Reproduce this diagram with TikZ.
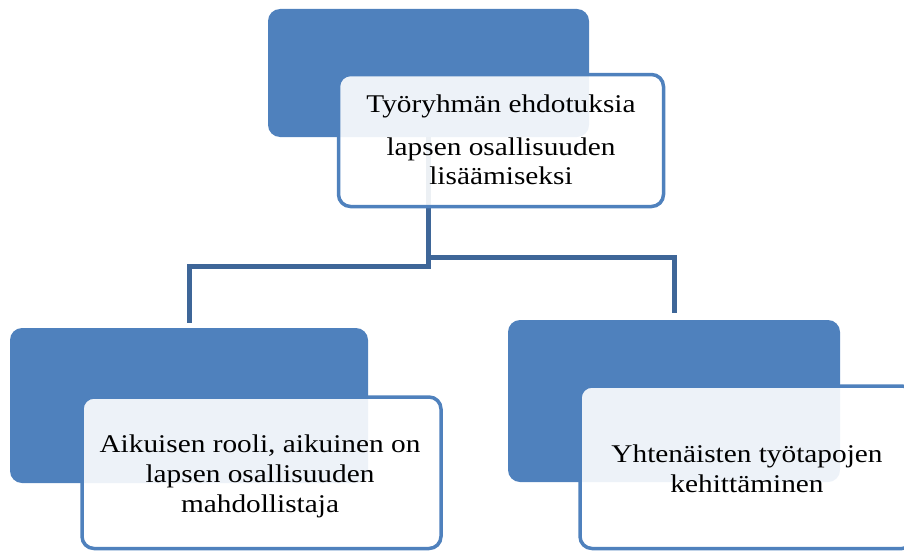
\documentclass[tikz,border=0pt]{standalone}
\usepackage{fontspec}
\setmainfont{Liberation Serif}[FakeStretch=1.15]
\usetikzlibrary{calc}
\definecolor{acc}{RGB}{79,129,189}
\definecolor{conncol}{RGB}{62,102,152}
\begin{document}
\begin{tikzpicture}[x=1pt,y=-1pt,
 bluebox/.style={rectangle, rounded corners=12pt, fill=acc, draw=none, inner sep=0pt, outer sep=0pt},
 whitebox/.style={rectangle, rounded corners=12pt, fill=white, fill opacity=0.9, draw=acc, line width=3.5pt, inner sep=0pt, outer sep=0pt},
 conn/.style={draw=conncol, line width=5pt},
 lbl/.style={anchor=base, inner sep=0pt, font=\fontsize{25.5}{30}\selectfont}]
\useasboundingbox (0,0) rectangle (904,551);
\clip (0,0) rectangle (904,551);
% blue back boxes
\node[bluebox, minimum width=321pt, minimum height=128pt] (tb) at (428.5,73) {};
\node[bluebox, minimum width=358pt, minimum height=155pt] (lb) at (189,405.5) {};
\node[bluebox, minimum width=332pt, minimum height=162pt] (rb) at (674,401) {};
% connectors
\coordinate (jl) at (428.5,266);
\coordinate (jr) at (428.5,257);
\draw[conn] (tb.south) -- (tb.south |- jl) -| ([yshift=5pt]lb.north);
\draw[conn] (tb.south |- jr) -| ([yshift=7pt]rb.north);
% white front boxes
\node[whitebox, minimum width=325pt, minimum height=132pt] (tw) at (501,140.5) {};
\node[whitebox, minimum width=359pt, minimum height=151.5pt] (lw) at (261.5,472.75) {};
\node[whitebox, minimum width=334pt, minimum height=162.5pt] (rw) at (747,467.25) {};
% texts
\node[lbl] (t1) at (501,112) {Työryhmän ehdotuksia};
\node[lbl] (t2) at (501,155) {lapsen osallisuuden};
\node[lbl] (t3) at (501,184) {lisäämiseksi};
\node[lbl] (l1) at (260,452) {Aikuisen rooli, aikuinen on};
\node[lbl] (l2) at (260,482) {lapsen osallisuuden};
\node[lbl] (l3) at (260,512) {mahdollistaja};
\node[lbl] (r1) at (747,462) {Yhtenäisten työtapojen};
\node[lbl] (r2) at (747,492) {kehittäminen};
\end{tikzpicture}
\end{document}
